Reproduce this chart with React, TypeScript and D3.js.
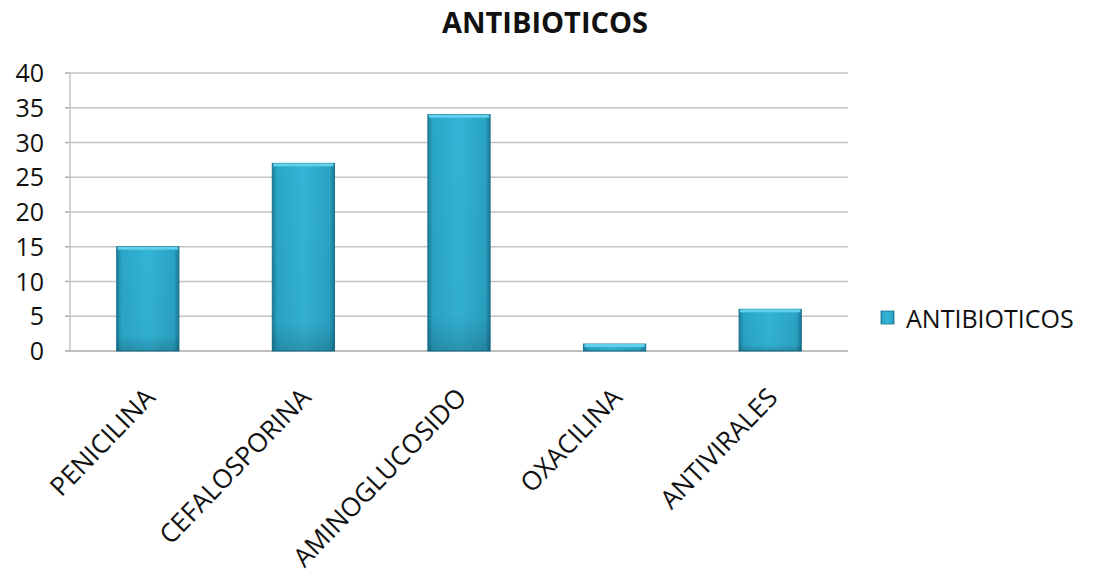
import React from "react";
import * as d3 from "d3";

const categories = ["PENICILINA", "CEFALOSPORINA", "AMINOGLUCOSIDO", "OXACILINA", "ANTIVIRALES"];
const values = [15, 27, 34, 1, 6];
const yTicks = [0, 5, 10, 15, 20, 25, 30, 35, 40];
const seriesName = "ANTIBIOTICOS";
const title = "ANTIBIOTICOS";

const W = 1097;
const H = 585;
const left = 70;
const right = 848;
const top = 73;
const bottom = 351;
const font = "'Open Sans', sans-serif";

export default function App() {
  const x = d3.scaleBand<string>().domain(categories).range([left, right]).paddingInner(0.6).paddingOuter(0.3);
  const y = d3.scaleLinear().domain([0, 40]).range([bottom, top]);
  return (
    <svg width={W} height={H} style={{ position: "absolute", left: 0, top: 0, background: "#fff" }}>
      <defs>
        <linearGradient id="barG" x1="0" x2="1" y1="0" y2="0">
          <stop offset="0" stopColor="#1b7f9d" />
          <stop offset="0.08" stopColor="#2aa6c8" />
          <stop offset="0.5" stopColor="#34b4d6" />
          <stop offset="0.92" stopColor="#2aa3c4" />
          <stop offset="1" stopColor="#1a7896" />
        </linearGradient>
        <linearGradient id="barV" x1="0" x2="0" y1="0" y2="1">
          <stop offset="0" stopColor="#000" stopOpacity="0" />
          <stop offset="0.85" stopColor="#000" stopOpacity="0.03" />
          <stop offset="1" stopColor="#000" stopOpacity="0.18" />
        </linearGradient>
      </defs>
      <text x={545} y={33} textAnchor="middle" fontFamily={font} fontWeight="bold" fontSize={29} fill="#111">
        {title}
      </text>
      {yTicks.map((t) => (
        <g key={t}>
          <line x1={left} x2={right} y1={y(t)} y2={y(t)} stroke={t === 0 ? "#aaa" : "#c4c4c4"} strokeWidth={1.5} />
          <line x1={left - 5} x2={left} y1={y(t)} y2={y(t)} stroke="#aaa" strokeWidth={1.5} />
          <text x={44} y={y(t) + 9} textAnchor="end" fontFamily={font} fontSize={25} fill="#111">
            {t}
          </text>
        </g>
      ))}
      <line x1={left} x2={left} y1={top} y2={bottom} stroke="#c4c4c4" strokeWidth={1.5} />
      {categories.map((c, i) => {
        const bx = x(c)!;
        const bw = x.bandwidth();
        const by = y(values[i]);
        const bh = bottom - by;
        return (
          <g key={c}>
            <rect x={bx} y={by} width={bw} height={bh} fill="url(#barG)" stroke="#1a7490" strokeWidth={1} />
            <rect x={bx} y={by} width={bw} height={bh} fill="url(#barV)" />
            <rect x={bx + 1} y={by} width={bw - 2} height={Math.min(3, bh)} fill="#62d2ec" />
          </g>
        );
      })}
      {categories.map((c) => {
        const cx = x(c)! + x.bandwidth() / 2 + 9;
        return (
          <text
            key={c}
            transform={`translate(${cx},${399}) rotate(-46)`}
            textAnchor="end"
            fontFamily={font}
            fontSize={26}
            fill="#111"
          >
            {c}
          </text>
        );
      })}
      <rect x={881} y={311} width={13} height={13} fill="url(#barG)" stroke="#1a7490" strokeWidth={0.8} />
      <text x={906} y={328} fontFamily={font} fontSize={25} fill="#111">
        {seriesName}
      </text>
    </svg>
  );
}
